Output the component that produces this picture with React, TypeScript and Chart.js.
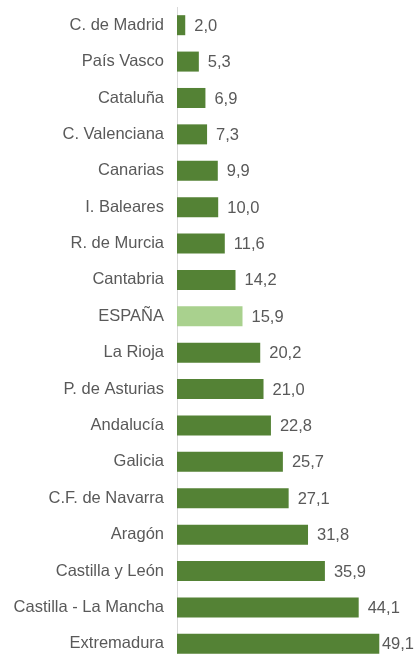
import React, { useEffect, useRef } from "react";
import { Chart, registerables } from "chart.js";

Chart.register(...registerables);

const categories = [
  "C. de Madrid", "País Vasco", "Cataluña", "C. Valenciana", "Canarias",
  "I. Baleares", "R. de Murcia", "Cantabria", "ESPAÑA", "La Rioja",
  "P. de Asturias", "Andalucía", "Galicia", "C.F. de Navarra", "Aragón",
  "Castilla y León", "Castilla - La Mancha", "Extremadura",
];
const values = [2.0, 5.3, 6.9, 7.3, 9.9, 10.0, 11.6, 14.2, 15.9, 20.2, 21.0, 22.8, 25.7, 27.1, 31.8, 35.9, 44.1, 49.1];
const highlight = "ESPAÑA";

const DARK = "#548235";
const LIGHT = "#a9d18e";
const TEXT = "#595959";
const FONT = "'Liberation Sans', Arial, sans-serif";

const valueLabels = {
  id: "valueLabels",
  afterDatasetsDraw(chart: any) {
    const { ctx } = chart;
    const meta = chart.getDatasetMeta(0);
    ctx.save();
    ctx.font = `16.5px ${FONT}`;
    ctx.fillStyle = TEXT;
    ctx.textBaseline = "middle";
    ctx.textAlign = "left";
    meta.data.forEach((bar: any, i: number) => {
      const txt = values[i].toFixed(1).replace(".", ",");
      const w = ctx.measureText(txt).width;
      let x = bar.x + 9;
      x = Math.max(bar.x + 2, Math.min(x, chart.width - w - 4));
      ctx.fillText(txt, x, bar.y + 1);
    });
    ctx.restore();
  },
};

export default function App() {
  const ref = useRef<HTMLCanvasElement>(null);
  useEffect(() => {
    if (!ref.current) return;
    const chart = new Chart(ref.current, {
      type: "bar",
      data: {
        labels: categories,
        datasets: [
          {
            data: values,
            backgroundColor: categories.map((c) => (c === highlight ? LIGHT : DARK)),
            barPercentage: 0.55,
            categoryPercentage: 1,
          },
        ],
      },
      options: {
        indexAxis: "y",
        animation: false,
        responsive: false,
        maintainAspectRatio: false,
        layout: { padding: { top: 7, bottom: 8, right: 35, left: 0 } },
        plugins: { legend: { display: false }, tooltip: { enabled: false } },
        scales: {
          x: { display: false, min: 0, max: 50 },
          y: {
            afterFit(scale: any) {
              scale.width = 177;
              scale.paddingTop = 0;
              scale.paddingBottom = 0;
            },
            grid: { display: false, drawTicks: false },
            border: { display: true, color: "#d9d9d9", width: 1 },
            ticks: {
              padding: 13,
              color: TEXT,
              font: { family: FONT, size: 16.5 },
            },
          },
        },
      },
      plugins: [valueLabels],
    });
    return () => chart.destroy();
  }, []);
  return (
    <div style={{ position: "absolute", left: 0, top: 0, width: 418, height: 670 }}>
      <canvas ref={ref} width={418} height={670} style={{ display: "block" }} />
    </div>
  );
}
